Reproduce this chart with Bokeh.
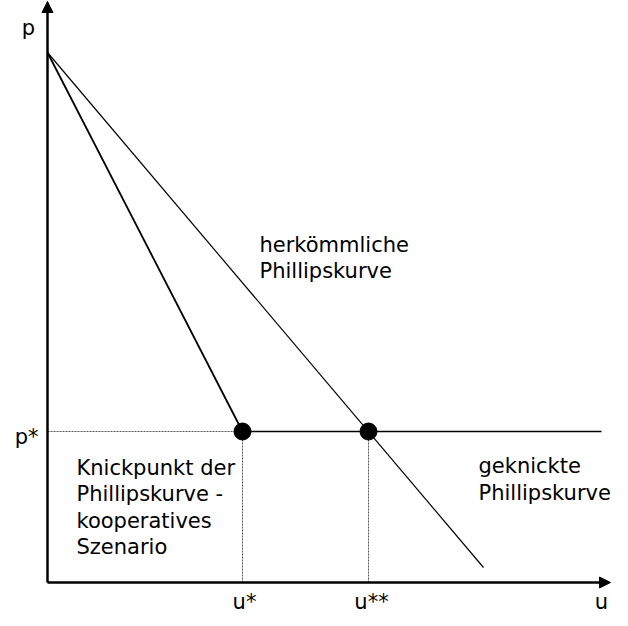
from bokeh.plotting import figure
from bokeh.models import Arrow, NormalHead
from bokeh.core.properties import value
from bokeh.embed import file_html
from bokeh.resources import INLINE

# ---- data (arbitrary units, origin at axes crossing) ----
p_intercept = 530          # price level at u = 0
p_star = 151               # p*
u_star = 195               # u*
u_star2 = 321              # u**
u_axis_end = 563
p_axis_end = 581

# kinked Phillips curve
kinked_u = [0, u_star, 554]
kinked_p = [p_intercept, p_star, p_star]
# conventional Phillips curve
conv_u = [0, 436]
conv_p = [p_intercept, 15]

# marked points
point_u = [u_star, u_star2]
point_p = [p_star, p_star]

# tick labels
u_tick_labels = ["u*", "u**", "u"]
u_tick_pos = [197, 324, 554]
p_tick_labels = ["p*"]
p_tick_pos = [p_star]

FONT = value("DejaVu Sans")

p = figure(width=612, height=610, x_range=(-47, 565), y_range=(-28, 582),
           output_backend="svg", toolbar_location=None,
           x_axis_location=None, y_axis_location=None,
           min_border=0, min_border_left=0, min_border_right=0,
           min_border_top=0, min_border_bottom=0)
p.grid.visible = False
p.outline_line_color = None
p.background_fill_color = "white"
p.border_fill_color = "white"

# axes with arrows
p.add_layout(Arrow(end=NormalHead(size=11, fill_color="black", line_color="black"),
                   x_start=0, y_start=0, x_end=0, y_end=p_axis_end,
                   line_width=2.5, line_color="black"))
p.add_layout(Arrow(end=NormalHead(size=11, fill_color="black", line_color="black"),
                   x_start=0, y_start=0, x_end=u_axis_end, y_end=0,
                   line_width=2.5, line_color="black"))

# dotted guide lines
p.line([0, u_star], [p_star, p_star], line_color="#555555", line_width=1, line_dash="2 1")
for u in point_u:
    p.line([u, u], [0, p_star], line_color="#555555", line_width=1, line_dash="2 1")

# curves
p.line(conv_u, conv_p, line_color="black", line_width=1.2)
p.line(kinked_u[:2], kinked_p[:2], line_color="black", line_width=1.8)
p.line(kinked_u[1:], kinked_p[1:], line_color="black", line_width=1.5)

# points
p.scatter(point_u, point_p, size=17, color="black")

# tick labels
p.text(u_tick_pos, [-19] * 3, text=u_tick_labels, text_font=FONT, text_font_size="21px",
       text_align="center", text_baseline="alphabetic", text_color="black")
p.text([-9], [146], text=p_tick_labels, text_font=FONT, text_font_size="21px",
       text_align="right", text_baseline="alphabetic", text_color="black")
p.text([-19], [555], text=["p"], text_font=FONT, text_font_size="21px",
       text_align="center", text_baseline="alphabetic", text_color="black")

# annotations
knick_lines = ["Knickpunkt der", "Phillipskurve -", "kooperatives", "Szenario"]
knick_y = [115, 88.5, 62, 35.5]
p.text([29] * 4, knick_y, text=knick_lines, text_font=FONT, text_font_size="21px",
       text_align="left", text_baseline="alphabetic", text_color="black")

conv_lines = ["herkömmliche", "Phillipskurve"]
p.text([212] * 2, [338, 312], text=conv_lines, text_font=FONT, text_font_size="21px",
       text_align="left", text_baseline="alphabetic", text_color="black")

kink_lines = ["geknickte", "Phillipskurve"]
p.text([431] * 2, [117, 90], text=kink_lines, text_font=FONT, text_font_size="21px",
       text_align="left", text_baseline="alphabetic", text_color="black")

open("out.html", "w").write(file_html(p, INLINE))
